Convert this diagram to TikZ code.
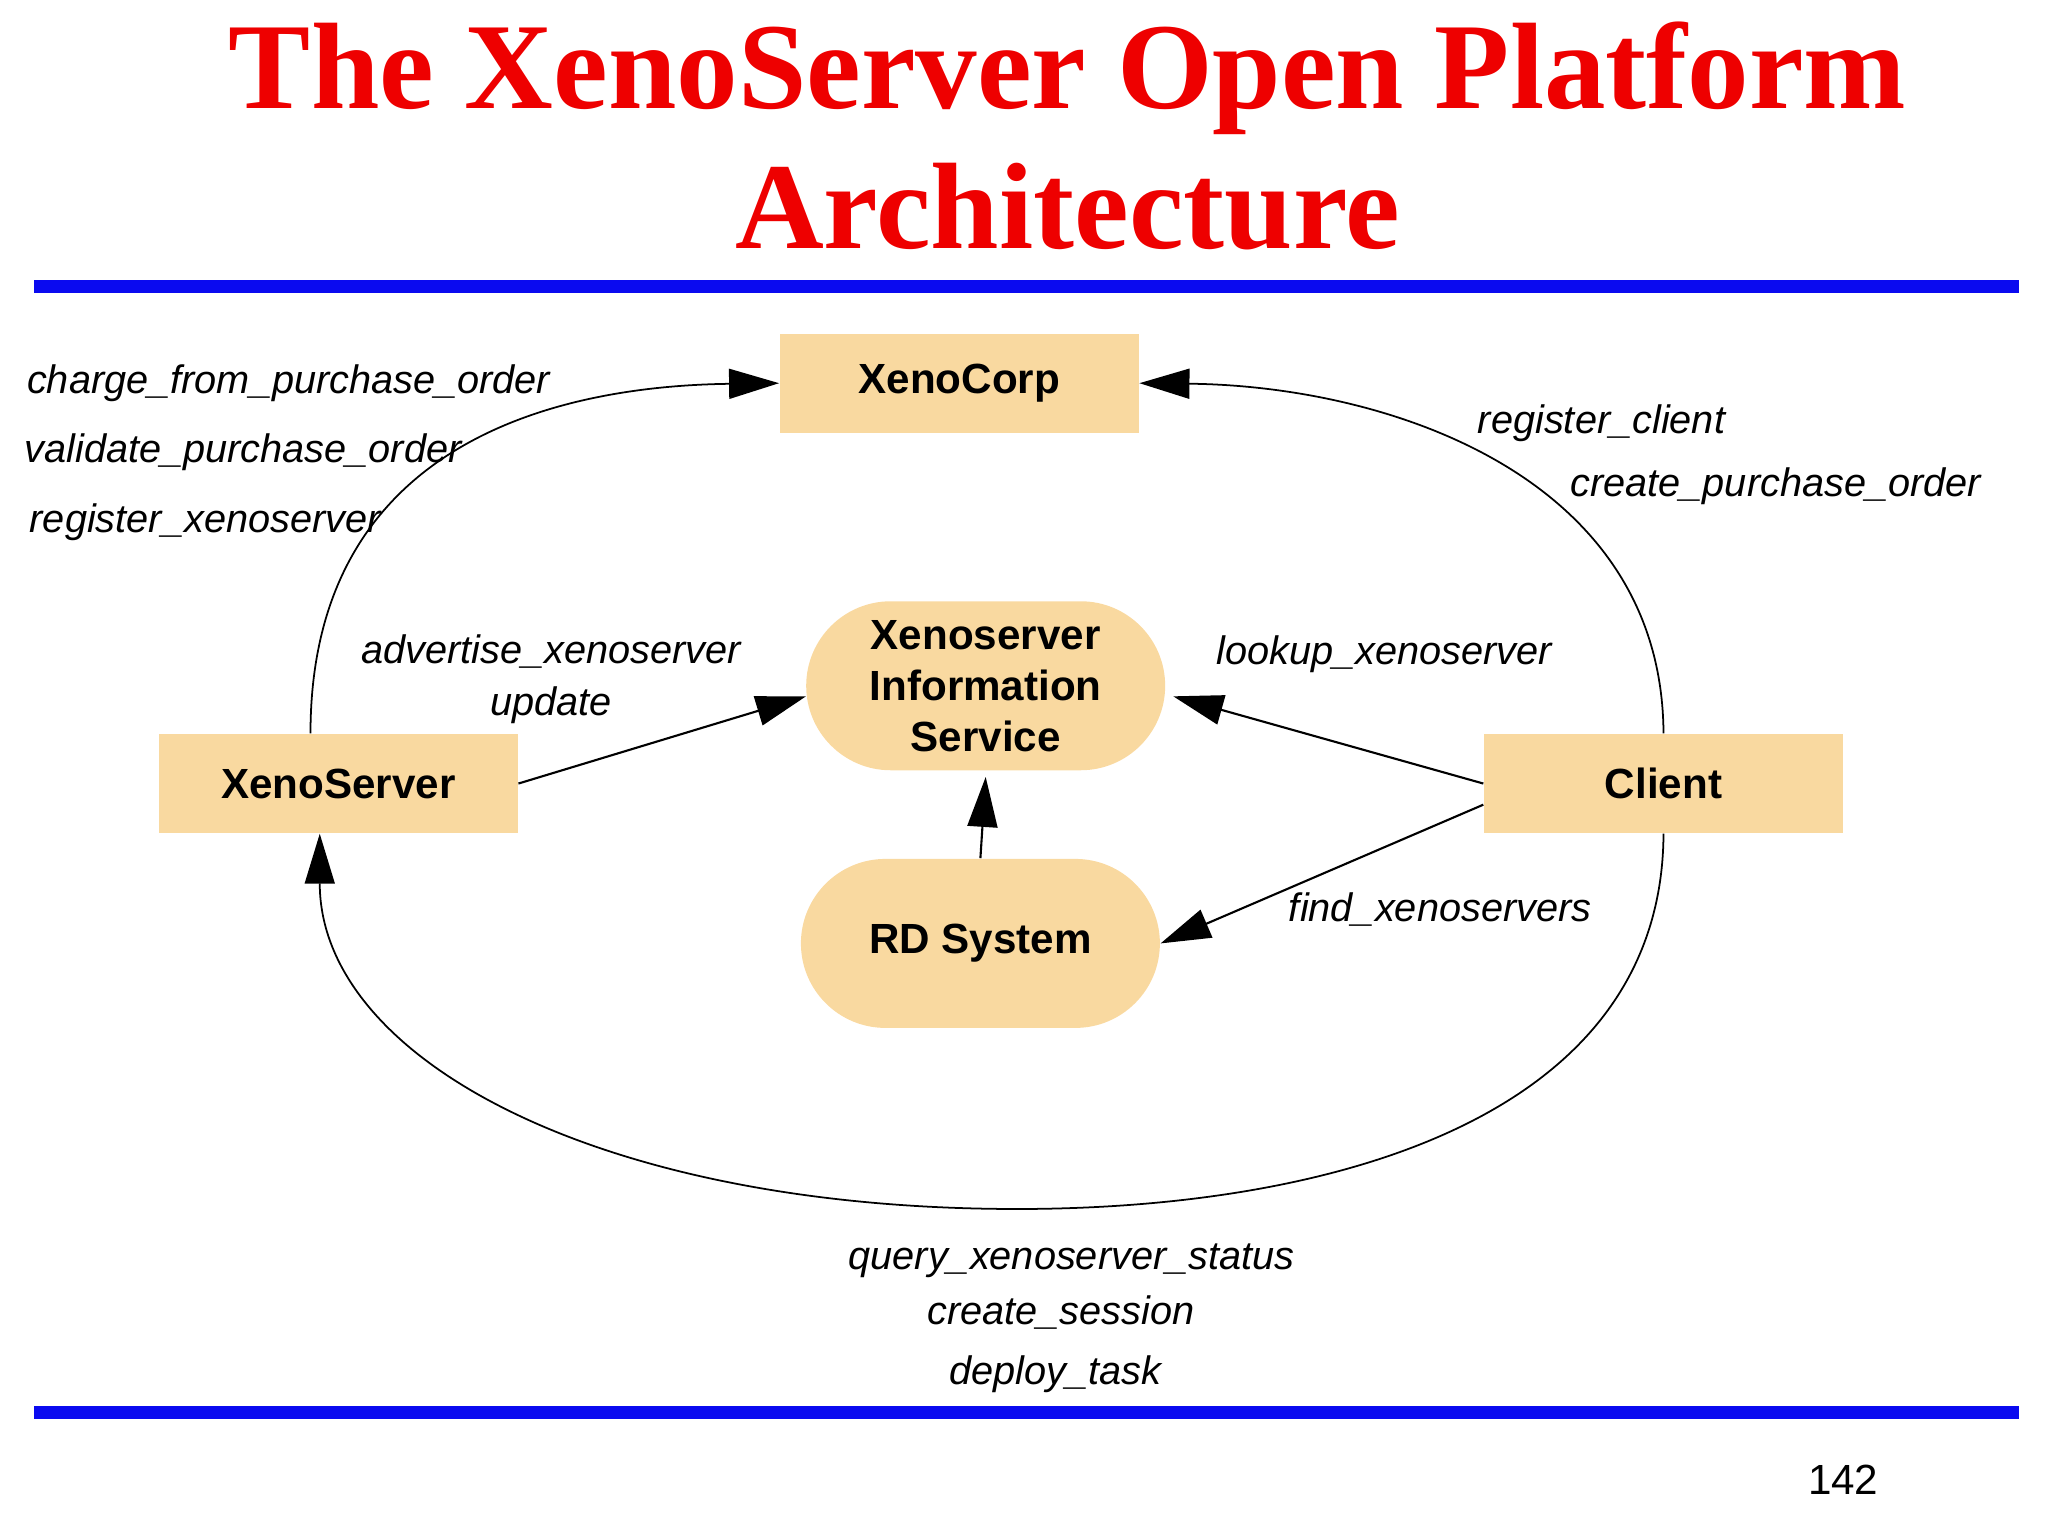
\documentclass[tikz,border=0pt]{standalone}
\usepackage{fontspec}
\setmainfont{Liberation Serif}
\setsansfont{Liberation Sans}
\usetikzlibrary{arrows.meta,calc,shapes.misc}
\definecolor{boxc}{HTML}{F9D9A0}
\definecolor{titred}{HTML}{EE0000}
\definecolor{ruleb}{HTML}{0A0AF0}
\begin{document}
\begin{tikzpicture}[x=0.01321cm,y=-0.01321cm,
  rbox/.style={fill=boxc,minimum width=3.59cm,minimum height=0.99cm,inner sep=0pt,font=\sffamily\bfseries\fontsize{12}{14}\selectfont},
  pill/.style={fill=boxc,rounded rectangle,minimum width=3.59cm,minimum height=1.69cm,inner sep=0pt,align=center,font=\sffamily\bfseries\fontsize{12}{14.5}\selectfont},
  lab/.style={font=\sffamily\itshape\fontsize{11.3}{13}\selectfont,inner sep=0pt},
  arr/.style={draw,line width=0.6pt,-{Triangle[length=0.5cm,width=0.3cm]}},
  curv/.style={draw,line width=0.5pt,-{Triangle[length=0.5cm,width=0.3cm]}}]
\useasboundingbox (0,0) rectangle (1550,1163);
\node[font=\bfseries\fontsize{35}{40}\selectfont,text=titred,align=center] (title) at (808,103) {The XenoServer Open Platform\\Architecture};
\fill[ruleb] (26,212) rectangle (1528,222);
\fill[ruleb] (26,1064) rectangle (1528,1074);
\node[rbox] (xc) at (726,290) {XenoCorp};
\node[pill] (xis) at (746,519) {Xenoserver\\Information\\Service};
\node[rbox] (xs) at (256,593) {XenoServer};
\node[rbox] (cl) at (1259,593) {Client};
\node[pill] (rd) at (742,714) {RD System};
\coordinate (bot) at (770,915);
\draw[curv] ($(xs.north)+(-21,0)$) .. controls (235,330) and (430,292) .. (xc.west);
\draw[curv] (cl.north) .. controls (1258,360) and (1050,292) .. (xc.east);
\draw[curv] (cl.south) .. controls (1258,850) and (1000,915) .. (bot) .. controls (450,915) and (242,800) .. ($(xs.south)+(-14,0)$);
\draw[arr] (xs.east) -- (610,527);
\draw[arr] (cl.west) -- (888,527);
\draw[arr] (rd.north) -- (746,588);
\draw[arr] ($(cl.west)+(0,16)$) -- (rd.east);
\node[lab,anchor=west] (l1) at (20,290) {charge\_from\_purchase\_order};
\node[lab,anchor=west] (l2) at (18,342) {validate\_purchase\_order};
\node[lab,anchor=west] (l3) at (22,395) {register\_xenoserver};
\node[lab,anchor=west] (l4) at (1118,320) {register\_client};
\node[lab,anchor=west] (l5) at (1188,368) {create\_purchase\_order};
\node[lab,align=center] (l6) at (417,514) {advertise\_xenoserver\\[2pt]update};
\node[lab,anchor=west] (l7) at (920,495) {lookup\_xenoserver};
\node[lab,anchor=west] (l8) at (975,688) {find\_xenoservers};
\node[lab] (l9) at (811,954) {query\_xenoserver\_status};
\node[lab] (l10) at (803,993) {create\_session};
\node[lab] (l11) at (799,1040) {deploy\_task};
\node[font=\sffamily\fontsize{12}{14}\selectfont] (pg) at (1395,1120) {142};
\end{tikzpicture}
\end{document}
